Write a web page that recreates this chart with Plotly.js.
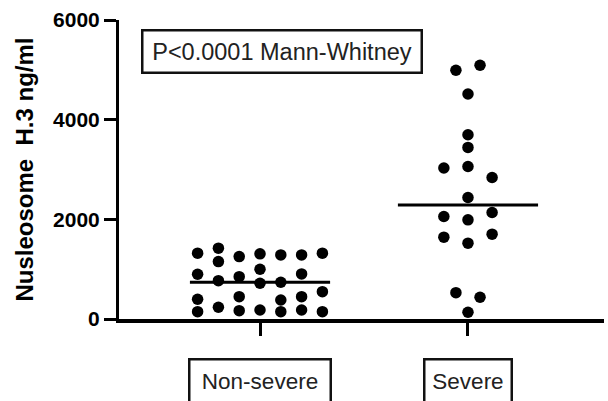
<!DOCTYPE html>
<html>
<head>
<meta charset="utf-8">
<script src="https://cdn.plot.ly/plotly-3.0.1.min.js"></script>
<style>html,body{margin:0;padding:0;background:#fff;}#chart{width:608px;height:401px;}</style>
</head>
<body>
<div id="chart"></div>
<script>
// ---- data ----
var categories = ["Non-severe", "Severe"];
var nonSevereValues = [1321, 898, 396, 147,  1421, 1152, 770, 235,  1252, 850, 448, 167,
                       1307, 999, 718, 181,  1286, 738, 382, 147,  1286, 905, 448, 181,
                       1321, 549, 147];
var nonSevereSlots  = [-3, -3, -3, -3,  -2, -2, -2, -2,  -1, -1, -1, -1,
                        0, 0, 0, 0,  1, 1, 1, 1,  2, 2, 2, 2,  3, 3, 3];
var severeValues = [4991, 5091, 4516, 3698, 3443, 3029, 3061, 2840, 2438,
                    2056, 1990, 2137, 1642, 1702, 1522, 529, 436, 135];
var severeSlots  = [-1, 1, 0, 0, 0, -2, 0, 2, 0,
                    -2, 0, 2, -2, 2, 0, -1, 1, 0];
var yTickVals = [0, 2000, 4000, 6000];
var yTickText = ["0", "2000", "4000", "6000"];
var statText = "P<0.0001 Mann-Whitney";
var yTitle = "Nusleosome&nbsp; H.3 ng/ml";

// ---- helpers ----
function median(a) {
  var s = a.slice().sort(function (p, q) { return p - q; });
  var n = s.length;
  return n % 2 ? s[(n - 1) / 2] : (s[n / 2 - 1] + s[n / 2]) / 2;
}
var slotWidth = [0.1, 0.058];
var halfLine = 0.337;
var groups = [
  {v: nonSevereValues, s: nonSevereSlots},
  {v: severeValues, s: severeSlots}
];

var FONT = "Liberation Sans, Arial, Helvetica, sans-serif";
var traces = [];
groups.forEach(function (g, i) {
  traces.push({
    type: "scatter", mode: "markers",
    x: g.s.map(function (k) { return i + k * slotWidth[i]; }),
    y: g.v,
    marker: {color: "#000", size: 11.5, line: {width: 0}},
    hoverinfo: "y", showlegend: false, cliponaxis: false
  });
  var m = median(g.v);
  traces.push({
    type: "scatter", mode: "lines",
    x: [i - halfLine, i + halfLine], y: [m, m],
    line: {color: "#000", width: 3},
    hoverinfo: "skip", showlegend: false
  });
});

var annotations = categories.map(function (c, i) {
  return {
    text: c, xref: "x", yref: "paper", x: i, y: -0.21,
    xanchor: "center", yanchor: "middle", showarrow: false,
    font: {family: FONT, size: 22.5, color: "#222"},
    bordercolor: "#111", borderwidth: 2.5, borderpad: 0,
    width: 139, height: 42
  };
});
annotations[1].width = 85;
annotations.push({
  text: statText, xref: "paper", yref: "paper", x: 0.337, y: 0.896,
  xanchor: "center", yanchor: "middle", showarrow: false,
  font: {family: FONT, size: 23.5, color: "#222"},
  bordercolor: "#111", borderwidth: 2.5, borderpad: 0,
  width: 277, height: 40
});

var layout = {
  width: 608, height: 401,
  margin: {l: 119, r: 4, t: 20, b: 82},
  paper_bgcolor: "#fff", plot_bgcolor: "#fff",
  showlegend: false,
  xaxis: {
    range: [-0.678, 1.654], tickvals: [0, 1], showticklabels: false,
    ticks: "outside", ticklen: 13, tickwidth: 3, tickcolor: "#000",
    showline: true, linecolor: "#000", linewidth: 3.5,
    showgrid: false, zeroline: false, fixedrange: true
  },
  yaxis: {
    range: [0, 6000], tickvals: yTickVals, ticktext: yTickText,
    ticks: "outside", ticklen: 12, tickwidth: 3, tickcolor: "#000",
    tickfont: {family: FONT, size: 21, color: "#000", weight: "bold"},
    showline: true, linecolor: "#000", linewidth: 3,
    showgrid: false, zeroline: false, fixedrange: true,
    title: {text: yTitle, standoff: 13,
            font: {family: FONT, size: 24, color: "#000", weight: "bold"}},
    automargin: false
  },
  annotations: annotations
};

Plotly.newPlot("chart", traces, layout, {staticPlot: true, displayModeBar: false});
</script>
</body>
</html>
